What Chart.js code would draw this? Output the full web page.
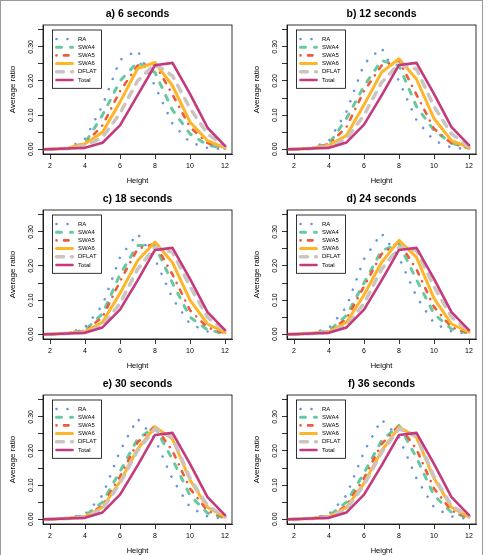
<!DOCTYPE html>
<html>
<head>
<meta charset="utf-8">
<script src="https://cdn.jsdelivr.net/npm/chart.js@4.4.1/dist/chart.umd.min.js"></script>
<style>
  html, body { margin: 0; padding: 0; background: #fff; }
  #page { position: relative; width: 488px; height: 555px; overflow: hidden; }
  #frame { position: absolute; left: 0; top: 0; width: 483px; height: 600px; border: 1px solid #9a9a9a; box-sizing: border-box; }
  canvas { position: absolute; }
</style>
</head>
<body>
<div id="page">
  <div id="frame"></div>
  <canvas id="panel-0" width="244" height="185" style="left:0;top:0"></canvas>
  <canvas id="panel-1" width="244" height="185" style="left:244px;top:0"></canvas>
  <canvas id="panel-2" width="244" height="185" style="left:0;top:185px"></canvas>
  <canvas id="panel-3" width="244" height="185" style="left:244px;top:185px"></canvas>
  <canvas id="panel-4" width="244" height="185" style="left:0;top:370px"></canvas>
  <canvas id="panel-5" width="244" height="185" style="left:244px;top:370px"></canvas>
</div>
<script>
const heights = [1, 2, 3, 4, 5, 6, 7, 8, 9, 10, 11, 12];
const panelTitles = ["a) 6 seconds", "b) 12 seconds", "c) 18 seconds", "d) 24 seconds", "e) 30 seconds", "f) 36 seconds"];
const seriesNames = ["RA", "SWA4", "SWA5", "SWA6", "DFLAT", "Total"];
const xTicks = [2, 4, 6, 8, 10, 12];
const yTicks = [0, 0.05, 0.1, 0.15, 0.2, 0.25, 0.3, 0.35];
const yLabelTicks = [0, 0.1, 0.2, 0.3];

// one row per panel (a..f), one value per height
const raValues = [
  [0, 0, 0.003, 0.03, 0.128, 0.262, 0.29, 0.185, 0.075, 0.02, 0.004, 0],
  [0, 0, 0.003, 0.025, 0.11, 0.25, 0.297, 0.2, 0.085, 0.025, 0.005, 0],
  [0, 0, 0.003, 0.02, 0.085, 0.225, 0.295, 0.22, 0.105, 0.03, 0.008, 0.001],
  [0, 0, 0.003, 0.018, 0.08, 0.22, 0.296, 0.225, 0.11, 0.032, 0.008, 0.001],
  [0, 0, 0.003, 0.015, 0.07, 0.2, 0.295, 0.235, 0.117, 0.035, 0.008, 0.001],
  [0, 0, 0.003, 0.015, 0.07, 0.198, 0.292, 0.24, 0.12, 0.035, 0.008, 0.001],
];
const swa4Values = [
  [0, 0, 0.003, 0.018, 0.1, 0.2, 0.255, 0.225, 0.115, 0.045, 0.012, 0.002],
  [0, 0, 0.003, 0.015, 0.09, 0.185, 0.26, 0.245, 0.125, 0.055, 0.018, 0.003],
  [0, 0, 0.003, 0.012, 0.06, 0.175, 0.26, 0.26, 0.15, 0.05, 0.013, 0.002],
  [0, 0, 0.003, 0.01, 0.055, 0.15, 0.245, 0.265, 0.16, 0.06, 0.015, 0.003],
  [0, 0, 0.003, 0.01, 0.05, 0.14, 0.235, 0.27, 0.175, 0.07, 0.018, 0.004],
  [0, 0, 0.003, 0.01, 0.05, 0.135, 0.23, 0.275, 0.18, 0.07, 0.02, 0.004],
];
const swa5Values = [
  [0, 0, 0.003, 0.016, 0.07, 0.17, 0.245, 0.25, 0.16, 0.065, 0.018, 0.003],
  [0, 0, 0.003, 0.015, 0.065, 0.17, 0.245, 0.26, 0.16, 0.06, 0.017, 0.004],
  [0, 0, 0.003, 0.01, 0.05, 0.155, 0.25, 0.265, 0.175, 0.07, 0.02, 0.003],
  [0, 0, 0.003, 0.008, 0.045, 0.14, 0.235, 0.27, 0.19, 0.08, 0.02, 0.004],
  [0, 0, 0.003, 0.008, 0.04, 0.125, 0.225, 0.273, 0.2, 0.09, 0.025, 0.005],
  [0, 0, 0.003, 0.008, 0.04, 0.12, 0.22, 0.275, 0.205, 0.09, 0.025, 0.005],
];
const swa6Values = [
  [0, 0, 0.003, 0.016, 0.05, 0.138, 0.236, 0.254, 0.186, 0.08, 0.025, 0.004],
  [0, 0, 0.003, 0.012, 0.04, 0.13, 0.225, 0.265, 0.205, 0.09, 0.025, 0.005],
  [0, 0, 0.003, 0.008, 0.035, 0.12, 0.215, 0.27, 0.21, 0.1, 0.03, 0.005],
  [0, 0, 0.003, 0.007, 0.035, 0.115, 0.21, 0.275, 0.225, 0.105, 0.03, 0.006],
  [0, 0, 0.003, 0.007, 0.035, 0.11, 0.205, 0.27, 0.235, 0.115, 0.035, 0.006],
  [0, 0, 0.003, 0.007, 0.035, 0.105, 0.2, 0.27, 0.24, 0.12, 0.035, 0.006],
];
const dflatValues = [
  [0, 0, 0.002, 0.01, 0.035, 0.105, 0.2, 0.25, 0.215, 0.12, 0.045, 0.008],
  [0, 0, 0.002, 0.008, 0.03, 0.1, 0.195, 0.25, 0.235, 0.125, 0.045, 0.008],
  [0, 0, 0.002, 0.006, 0.025, 0.09, 0.19, 0.255, 0.24, 0.14, 0.05, 0.01],
  [0, 0, 0.002, 0.006, 0.025, 0.09, 0.19, 0.255, 0.245, 0.14, 0.05, 0.01],
  [0, 0, 0.002, 0.006, 0.03, 0.105, 0.2, 0.265, 0.24, 0.12, 0.04, 0.008],
  [0, 0, 0.002, 0.006, 0.03, 0.1, 0.195, 0.265, 0.245, 0.125, 0.04, 0.008],
];
const totalValues = [
  [0, 0, 0.002, 0.004, 0.019, 0.07, 0.158, 0.246, 0.253, 0.162, 0.063, 0.01],
  [0, 0, 0.002, 0.004, 0.02, 0.072, 0.157, 0.247, 0.253, 0.162, 0.065, 0.012],
  [0, 0, 0.002, 0.004, 0.02, 0.072, 0.157, 0.247, 0.253, 0.162, 0.065, 0.012],
  [0, 0, 0.002, 0.004, 0.02, 0.072, 0.157, 0.247, 0.253, 0.162, 0.065, 0.012],
  [0, 0, 0.002, 0.004, 0.02, 0.072, 0.157, 0.247, 0.253, 0.162, 0.065, 0.012],
  [0, 0, 0.002, 0.004, 0.02, 0.072, 0.157, 0.247, 0.253, 0.162, 0.065, 0.012],
];

const seriesValues = [raValues, swa4Values, swa5Values, swa6Values, dflatValues, totalValues];

const seriesStyles = [
  { color: "#6a94e2", width: 2.6, dash: [0.01, 11] },
  { color: "#66c9a2", width: 3, dash: [5, 9] },
  { color: "#ee5a3c", width: 2.6, dash: [0.01, 7.5, 4.5, 7.5] },
  { color: "#fdb52a", width: 3, dash: [] },
  { color: "#cbc4c1", width: 3.5, dash: [7, 8] },
  { color: "#c43a7c", width: 2.6, dash: [] },
];

const FONT = "'Liberation Sans', Arial, sans-serif";

const panelTitle = {
  id: "panelTitle",
  afterDraw(chart, args, opts) {
    const { ctx, chartArea } = chart;
    ctx.save();
    ctx.font = "bold 10.5px " + FONT;
    ctx.fillStyle = "#000";
    ctx.textAlign = "center";
    ctx.textBaseline = "middle";
    ctx.fillText(opts.text, (chartArea.left + chartArea.right) / 2, 14);
    ctx.restore();
  },
};

const plotBox = {
  id: "plotBox",
  afterDatasetsDraw(chart) {
    const { ctx, chartArea } = chart;
    ctx.save();
    ctx.strokeStyle = "#000";
    ctx.lineWidth = 0.8;
    ctx.strokeRect(chartArea.left, chartArea.top, chartArea.right - chartArea.left, chartArea.bottom - chartArea.top);
    ctx.restore();
  },
};

// R style: y tick labels parallel to the axis
const yTickLabels = {
  id: "yTickLabels",
  afterDraw(chart) {
    const { ctx } = chart;
    const y = chart.scales.y;
    ctx.save();
    ctx.font = "7px " + FONT;
    ctx.fillStyle = "#000";
    ctx.textAlign = "center";
    ctx.textBaseline = "middle";
    yLabelTicks.forEach((v) => {
      const py = y.getPixelForValue(v);
      ctx.save();
      ctx.translate(y.right - 12, py);
      ctx.rotate(-Math.PI / 2);
      ctx.fillText(v.toFixed(2), 0, 0);
      ctx.restore();
    });
    ctx.restore();
  },
};

const insetLegend = {
  id: "insetLegend",
  afterDraw(chart) {
    const { ctx, chartArea } = chart;
    const left = chartArea.left + 9.5;
    const top = chartArea.top + 5;
    ctx.save();
    ctx.fillStyle = "#fff";
    ctx.fillRect(left, top, 49, 58.3);
    ctx.strokeStyle = "#000";
    ctx.lineWidth = 0.8;
    ctx.strokeRect(left, top, 49, 58.3);
    chart.data.datasets.forEach((ds, i) => {
      const ly = top + 9 + i * 8.2;
      ctx.strokeStyle = ds.borderColor;
      ctx.lineWidth = ds.borderWidth;
      ctx.lineCap = "round";
      ctx.setLineDash(ds.borderDash);
      ctx.beginPath();
      ctx.moveTo(left + 4, ly);
      ctx.lineTo(left + 20, ly);
      ctx.stroke();
      ctx.setLineDash([]);
      ctx.font = "6px " + FONT;
      ctx.fillStyle = "#000";
      ctx.textAlign = "left";
      ctx.textBaseline = "middle";
      ctx.fillText(ds.label, left + 25.5, ly);
    });
    ctx.restore();
  },
};

function makePanel(p) {
  const datasets = seriesNames.map((name, s) => ({
    label: name,
    data: heights.map((h, i) => ({ x: h, y: seriesValues[s][p][i] })),
    borderColor: seriesStyles[s].color,
    borderWidth: seriesStyles[s].width,
    borderDash: seriesStyles[s].dash,
    borderCapStyle: "round",
    borderJoinStyle: "round",
    pointRadius: 0,
    fill: false,
    tension: 0,
    order: seriesNames.length - s,
  }));

  new Chart(document.getElementById("panel-" + p), {
    type: "line",
    data: { datasets },
    options: {
      responsive: false,
      animation: false,
      events: [],
      layout: { padding: { left: 0, right: 12, top: 25, bottom: 0 } },
      plugins: {
        legend: { display: false },
        tooltip: { enabled: false },
        title: { display: false },
        panelTitle: { text: panelTitles[p] },
      },
      scales: {
        x: {
          type: "linear",
          bounds: "data",
          min: 1.6,
          max: 12.4,
          afterBuildTicks: (axis) => { axis.ticks = xTicks.map((v) => ({ value: v })); },
          afterFit: (axis) => { axis.height = 31; },
          grid: { drawOnChartArea: false, drawTicks: true, tickLength: 5, color: "#000", lineWidth: 0.8 },
          border: { display: true, color: "#000", width: 0.8 },
          ticks: {
            autoSkip: false,
            maxRotation: 0,
            padding: 3,
            color: "#000",
            font: { family: FONT, size: 7 },
            callback: (v) => String(v),
          },
          title: {
            display: true,
            text: "Height",
            color: "#000",
            font: { family: FONT, size: 7.5, lineHeight: 1.2 },
            padding: { top: 0, bottom: 0 },
          },
        },
        y: {
          type: "linear",
          bounds: "data",
          min: -0.014,
          max: 0.364,
          afterBuildTicks: (axis) => { axis.ticks = yTicks.map((v) => ({ value: v })); },
          afterFit: (axis) => { axis.width = 43; },
          grid: { drawOnChartArea: false, drawTicks: true, tickLength: 5, color: "#000", lineWidth: 0.8 },
          border: { display: true, color: "#000", width: 0.8 },
          ticks: { display: false },
          title: {
            display: true,
            text: "Average ratio",
            color: "#000",
            font: { family: FONT, size: 8, lineHeight: 1.2 },
            padding: { top: 7.5, bottom: 0 },
          },
        },
      },
    },
    plugins: [panelTitle, plotBox, yTickLabels, insetLegend],
  });
}

window.addEventListener("load", () => {
  panelTitles.forEach((t, p) => makePanel(p));
});
</script>
</body>
</html>
